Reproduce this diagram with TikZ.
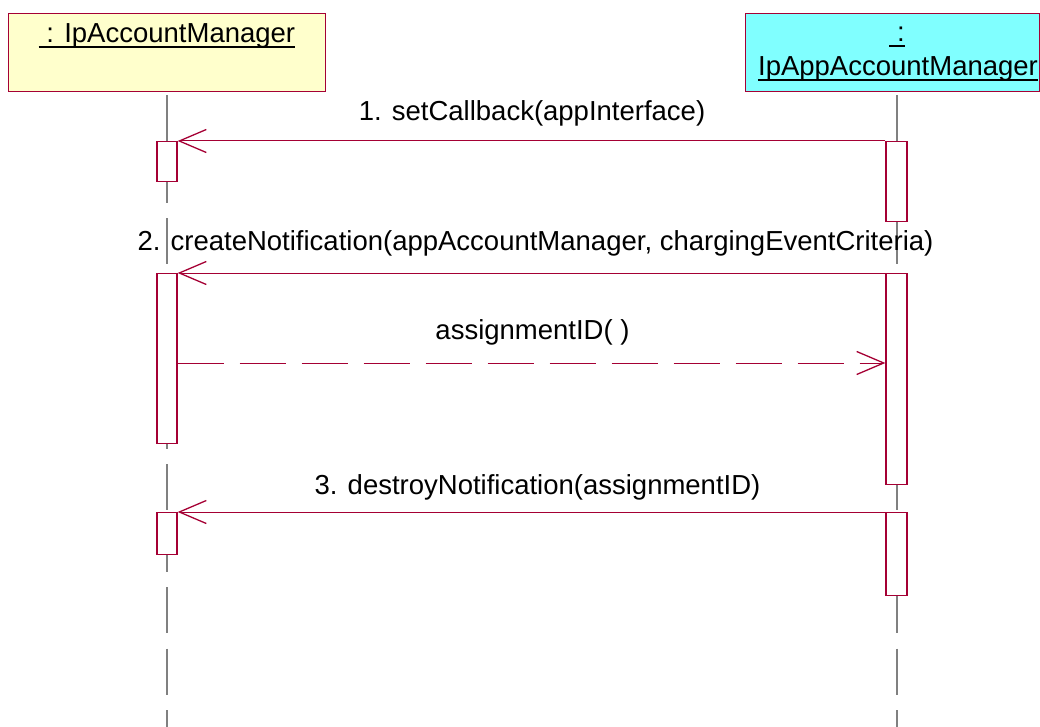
\documentclass[tikz,border=0pt]{standalone}
\usepackage{fontspec}
\setmainfont{Liberation Sans}
\usetikzlibrary{arrows.meta}
\definecolor{umlred}{RGB}{165,0,52}
\definecolor{hdryellow}{RGB}{255,255,204}
\definecolor{hdrcyan}{RGB}{128,255,255}
\definecolor{lifegray}{RGB}{128,128,128}
\tikzset{
  header/.style={draw=umlred, line width=1.2pt, inner sep=0pt, anchor=north west, minimum height=78pt},
  act/.style={draw=umlred, fill=white, line width=1.3pt, minimum width=20pt, inner sep=0pt, anchor=north},
  lifeline/.style={draw=lifegray, line width=1.3pt, dash pattern=on 46pt off 15.5pt},
  msg/.style={draw=umlred, line width=1pt, -{Straight Barb[length=27pt,width=23pt,line width=1.3pt]}},
  retmsg/.style={msg, dash pattern=on 46pt off 16pt},
  lbl/.style={font=\fontsize{27.5}{33}\selectfont, inner sep=0pt, anchor=base},
  uline/.style={draw=black, line width=1.3pt}
}
\begin{document}
\begin{tikzpicture}[x=1pt,y=-1pt]
\useasboundingbox (0,0) rectangle (1040,727);
% headers
\node[header, fill=hdryellow, minimum width=317pt] (hA) at (8,13) {};
\node[header, fill=hdrcyan, minimum width=294pt] (hB) at (745,13) {};
\node[lbl] (tA) at (167,43) {\ : IpAccountManager};
\draw[uline] ([yshift=-4pt]tA.base west) -- ([yshift=-4pt]tA.base east);
\node[lbl] (tB1) at (897,42) {\ :\ };
\draw[uline] ([yshift=-4pt]tB1.base west) -- ([yshift=-4pt]tB1.base east);
\node[lbl] (tB2) at (898,76) {IpAppAccountManager};
\draw[uline] ([yshift=-4pt]tB2.base west) -- ([yshift=-4pt]tB2.base east);
% lifelines
\coordinate (endA) at (167,727);
\coordinate (endB) at (897,727);
\draw[lifeline] ([yshift=-3pt]hA.south -| endA) -- (endA);
\draw[lifeline] ([yshift=-3pt]hB.south -| endB) -- (endB);
% activations
\node[act, minimum height=40pt] (a1) at (167,141) {};
\node[act, minimum height=170pt] (a2) at (167,273) {};
\node[act, minimum height=42pt] (a3) at (167,512) {};
\node[act, minimum width=21pt, minimum height=80pt] (b1) at (896.5,141) {};
\node[act, minimum width=21pt, minimum height=211pt] (b2) at (896.5,273) {};
\node[act, minimum width=21pt, minimum height=83pt] (b3) at (896.5,512) {};
% messages
\draw[msg] (b1.north west) -- (a1.north east);
\node[lbl] (m1) at (532,121) {1. setCallback(appInterface)};
\draw[msg] (b2.north west) -- (a2.north east);
\node[lbl] (m2) at (535.5,250) {2. createNotification(appAccountManager, chargingEventCriteria)};
\draw[retmsg] ([yshift=-90pt]a2.north east) -- ([yshift=-90pt]b2.north west);
\node[lbl] (r2) at (532.5,339) {assignmentID( )};
\draw[msg] (b3.north west) -- (a3.north east);
\node[lbl] (m3) at (537.5,494) {3. destroyNotification(assignmentID)};
\end{tikzpicture}
\end{document}
